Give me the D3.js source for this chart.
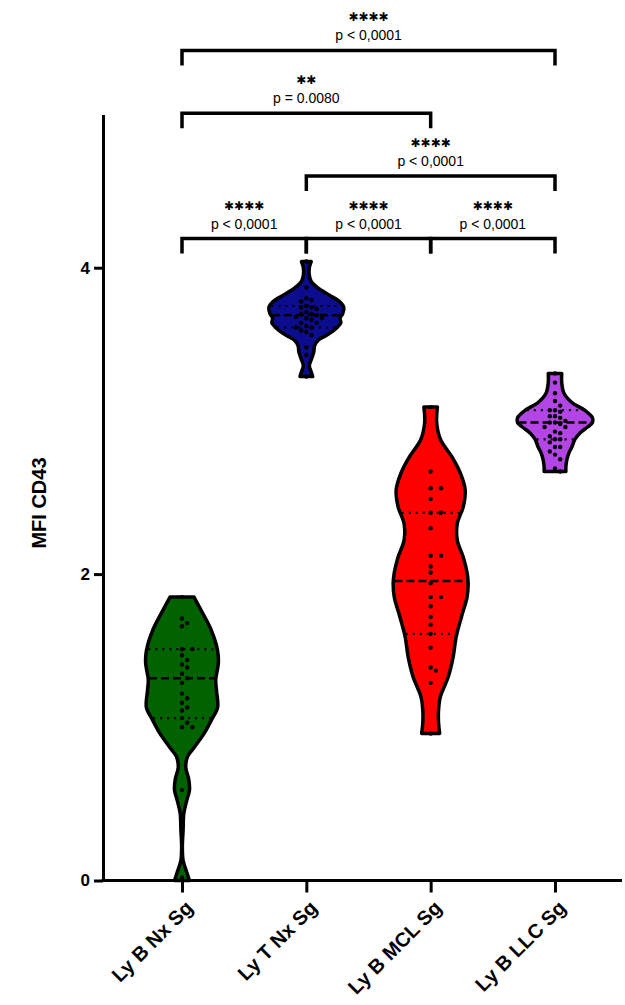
<!DOCTYPE html>
<html>
<head>
    <meta http-equiv="Content-type" content="text/html; charset=utf-8">
    <title>MFI CD43</title>
    <script type="text/javascript" src="https://cdn.jsdelivr.net/npm/d3@7/dist/d3.min.js"></script>
    <style type="text/css">
        body { margin: 0; background: #fff; }
        text { font-family: Arial, "Liberation Sans", sans-serif; }
        .axis path, .axis line { stroke: #000; stroke-width: 3; }
        .axis text { font-weight: bold; fill: #000; }
        .stars { font-family: "DejaVu Sans", sans-serif; font-weight: bold; }
    </style>
</head>
<body>
<div id="chart"></div>
<script type="text/javascript">
    var categories = ["Ly B Nx Sg", "Ly T Nx Sg", "Ly B MCL Sg", "Ly B LLC Sg"];
    var yTicks = [0, 2, 4];

    // individual values per group
    var pointsBNx = [1.85, 1.71, 1.68, 1.66, 1.51, 1.51, 1.47, 1.44, 1.41, 1.39, 1.35, 1.32, 1.29,
        1.22, 1.19, 1.16, 1.13, 1.11, 1.06, 1.03, 1.00, 1.00, 0.59, 0.02];
    var pointsTNx = [4.04, 3.87, 3.80, 3.79, 3.78, 3.75, 3.74, 3.74, 3.73, 3.71, 3.70, 3.70, 3.69, 3.68,
        3.67, 3.67, 3.66, 3.64, 3.64, 3.62, 3.61, 3.61, 3.59, 3.58, 3.56, 3.48, 3.43, 3.29];
    var pointsMCL = [3.09, 2.67, 2.56, 2.56, 2.49, 2.40, 2.40, 2.30, 2.12, 2.12, 2.05, 2.01, 1.94,
        1.85, 1.85, 1.79, 1.72, 1.67, 1.61, 1.52, 1.39, 1.37, 1.29, 0.96];
    var pointsLLC = [3.31, 3.25, 3.18, 3.13, 3.10, 3.07, 3.07, 3.06, 3.03, 3.03, 3.02, 3.00, 2.99, 2.99,
        2.98, 2.96, 2.96, 2.93, 2.92, 2.90, 2.88, 2.88, 2.86, 2.83, 2.83, 2.80, 2.78, 2.75, 2.69, 2.67];

    // violin outlines: value levels and relative density
    var levelsBNx = [1.85, 1.75, 1.64, 1.50, 1.42, 1.31, 1.24, 1.13, 1.05, 0.96, 0.87, 0.81, 0.74, 0.66,
        0.59, 0.525, 0.44, 0.33, 0.22, 0.13, 0.06, 0.0];
    var densityBNx = [0.32, 0.54, 0.77, 0.95, 0.97, 0.90, 0.92, 0.95, 0.79, 0.59, 0.33, 0.15, 0.10, 0.18,
        0.20, 0.13, 0.05, 0.03, 0.01, 0.03, 0.12, 0.20];
    var levelsTNx = [4.04, 4.00, 3.95, 3.91, 3.87, 3.82, 3.78, 3.74, 3.70, 3.67, 3.64, 3.61, 3.56, 3.53,
        3.49, 3.45, 3.40, 3.36, 3.32, 3.29];
    var densityTNx = [0.13, 0.08, 0.08, 0.13, 0.30, 0.62, 0.88, 1.00, 0.97, 0.90, 0.92, 0.82, 0.55, 0.33,
        0.22, 0.20, 0.13, 0.08, 0.13, 0.17];
    var levelsMCL = [3.09, 2.99, 2.88, 2.76, 2.66, 2.55, 2.44, 2.33, 2.22, 2.11, 2.01, 1.94, 1.85, 1.72,
        1.59, 1.46, 1.33, 1.20, 1.11, 1.03, 0.96];
    var densityMCL = [0.18, 0.16, 0.26, 0.58, 0.79, 0.92, 0.87, 0.71, 0.71, 0.87, 0.97, 1.00, 0.97, 0.82,
        0.68, 0.60, 0.47, 0.26, 0.21, 0.21, 0.24];
    var levelsLLC = [3.31, 3.25, 3.18, 3.12, 3.07, 3.02, 2.99, 2.96, 2.92, 2.88, 2.83, 2.79, 2.75, 2.70, 2.67];
    var densityLLC = [0.18, 0.18, 0.24, 0.45, 0.79, 1.00, 1.00, 0.87, 0.66, 0.53, 0.45, 0.37, 0.32, 0.29, 0.29];

    var medians = [1.32, 3.69, 1.955, 2.99];
    var lowerQuartiles = [1.06, 3.61, 1.61, 2.88];
    var upperQuartiles = [1.51, 3.75, 2.40, 3.07];

    // multiple comparisons
    var compFrom = ["Ly B Nx Sg", "Ly T Nx Sg", "Ly B MCL Sg", "Ly T Nx Sg", "Ly B Nx Sg", "Ly B Nx Sg"];
    var compTo = ["Ly T Nx Sg", "Ly B MCL Sg", "Ly B LLC Sg", "Ly B LLC Sg", "Ly B MCL Sg", "Ly B LLC Sg"];
    var compStars = ["✱✱✱✱", "✱✱✱✱", "✱✱✱✱", "✱✱✱✱", "✱✱", "✱✱✱✱"];
    var compP = ["p < 0,0001", "p < 0,0001", "p < 0,0001", "p < 0,0001", "p = 0.0080", "p < 0,0001"];
    var compRow = [0, 0, 0, 1, 2, 3];

    var colors = ["#006300", "#0c0c8e", "#ff0000", "#b245e4"];

    var points = [pointsBNx, pointsTNx, pointsMCL, pointsLLC];
    var levels = [levelsBNx, levelsTNx, levelsMCL, levelsLLC];
    var densities = [densityBNx, densityTNx, densityMCL, densityLLC];

    var width = 625, height = 1005;
    var svg = d3.select('#chart').append('svg')
        .attr('width', width)
        .attr('height', height);

    var y = d3.scaleLinear().domain([0, 5]).range([880.5, 114.5]);
    var x = d3.scalePoint().domain(categories).range([182, 555]);
    var w = d3.scaleLinear().domain([0, 1]).range([0, 37.5]);

    // violins
    categories.forEach(function(cat, i) {
        var cx = x(cat);
        var prof = levels[i].map(function(v, j) { return {v: v, d: densities[i][j]}; });
        var area = d3.area()
            .curve(d3.curveCatmullRom.alpha(0.5))
            .y(function(d) { return y(d.v); })
            .x0(function(d) { return cx - w(d.d); })
            .x1(function(d) { return cx + w(d.d); });

        var g = svg.append('g');
        g.append('path')
            .attr('d', area(prof))
            .attr('fill', colors[i])
            .attr('stroke', '#000')
            .attr('stroke-width', 3.5)
            .attr('stroke-linejoin', 'round');

        function halfWidth(v) {
            var asc = prof.slice().sort(function(a, b) { return a.v - b.v; });
            for (var k = 0; k < asc.length - 1; k++) {
                if (v >= asc[k].v && v <= asc[k + 1].v) {
                    var t = (v - asc[k].v) / (asc[k + 1].v - asc[k].v);
                    return w(asc[k].d + t * (asc[k + 1].d - asc[k].d));
                }
            }
            return 0;
        }

        [lowerQuartiles[i], upperQuartiles[i]].forEach(function(q) {
            var hw = halfWidth(q) - 1.5;
            g.append('line')
                .attr('x1', cx - hw).attr('x2', cx + hw)
                .attr('y1', y(q)).attr('y2', y(q))
                .attr('stroke', '#000')
                .attr('stroke-width', 2.2)
                .attr('stroke-dasharray', '2,5');
        });
        var mw = halfWidth(medians[i]) - 1;
        g.append('line')
            .attr('x1', cx - mw).attr('x2', cx + mw)
            .attr('y1', y(medians[i])).attr('y2', y(medians[i]))
            .attr('stroke', '#000')
            .attr('stroke-width', 2.5)
            .attr('stroke-dasharray', '8,4');

        // simple swarm so close values spread sideways
        var step = 5.2, placed = [];
        points[i].slice().sort(d3.descending).forEach(function(v) {
            var py = y(v), k = 0, px;
            while (true) {
                var off = k === 0 ? 0 : (k % 2 ? 1 : -1) * Math.ceil(k / 2) * step;
                px = cx + off;
                var hit = placed.some(function(p) {
                    return (p.x - px) * (p.x - px) + (p.y - py) * (p.y - py) < step * step;
                });
                if (!hit) break;
                k++;
            }
            placed.push({x: px, y: py});
        });
        g.selectAll('circle')
            .data(placed)
            .enter()
            .append('circle')
            .attr('cx', function(d) { return d.x; })
            .attr('cy', function(d) { return d.y; })
            .attr('r', 2.2)
            .attr('fill', '#000');
    });

    // y axis
    var yAxis = svg.append('g')
        .attr('class', 'axis')
        .attr('transform', 'translate(103,0)')
        .call(d3.axisLeft(y).tickValues(yTicks).tickFormat(d3.format('d'))
            .tickSize(9).tickSizeOuter(0).tickPadding(4));
    yAxis.selectAll('text').style('font-size', '17px');

    // x axis
    var xAxis = svg.append('g')
        .attr('class', 'axis')
        .attr('transform', 'translate(0,' + y(0) + ')')
        .call(d3.axisBottom(x).tickSize(12).tickSizeOuter(0));
    xAxis.select('.domain').remove();
    xAxis.append('line')
        .attr('x1', 101.5).attr('x2', 622)
        .attr('y1', 0).attr('y2', 0);
    xAxis.selectAll('text')
        .attr('x', 0).attr('y', 0)
        .attr('dy', '0.75em')
        .attr('text-anchor', 'end')
        .attr('transform', 'translate(1,18) rotate(-45)')
        .style('font-size', '20px');

    svg.append('text')
        .attr('transform', 'translate(46,503) rotate(-90)')
        .attr('text-anchor', 'middle')
        .style('font-weight', 'bold')
        .style('font-size', '20px')
        .text('MFI CD43');

    // significance brackets
    var rowGap = 62.7, legLen = 15;
    compFrom.forEach(function(a, i) {
        var x1 = x(a), x2 = x(compTo[i]);
        var ly = y(4.19) - compRow[i] * rowGap;
        svg.append('path')
            .attr('d', 'M' + x1 + ',' + (ly + legLen) + 'V' + ly + 'H' + x2 + 'V' + (ly + legLen))
            .attr('fill', 'none')
            .attr('stroke', '#000')
            .attr('stroke-width', 3.5);
        var mid = (x1 + x2) / 2;
        svg.append('text')
            .attr('class', 'stars')
            .attr('x', mid).attr('y', ly - 29)
            .attr('text-anchor', 'middle')
            .style('font-size', '12px')
            .text(compStars[i]);
        svg.append('text')
            .attr('x', mid).attr('y', ly - 10)
            .attr('text-anchor', 'middle')
            .style('font-size', '14px')
            .text(compP[i]);
    });
</script>
</body>
</html>
